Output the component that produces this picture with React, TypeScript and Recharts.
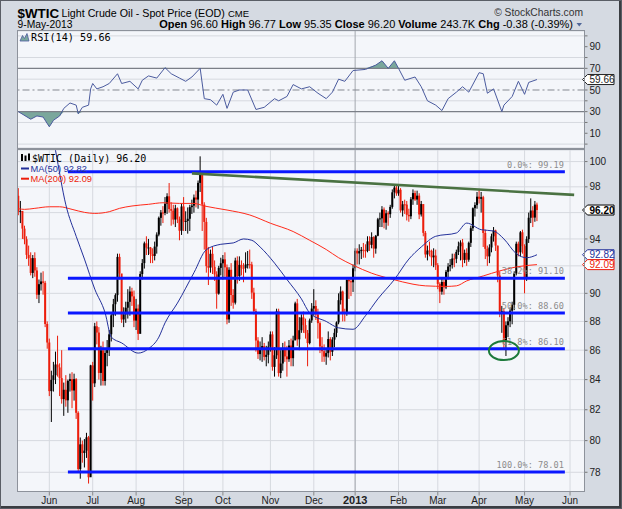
import React from 'react'
import {
  ComposedChart,
  Bar,
  Line,
  Area,
  XAxis,
  YAxis,
  CartesianGrid,
  ReferenceLine,
  ReferenceDot,
} from 'recharts'

const FONT = '"Liberation Sans", Arial, sans-serif'
const MONO = '"DejaVu Sans Mono", monospace'
const BG = '#d5dae2'
const PLOT_BG = '#f4f6fa'
const GRID = '#d6d9df'
const RED = '#ec1d0b'
const NAVY = '#23309a'
const FIB_BLUE = '#0a17ff'

// trading-day index of the first session of each month
const monthTicks = [15, 36, 57, 80, 99, 122, 143, 163, 184, 203, 223, 245, 267]
const monthLabels = ['Jun', 'Jul', 'Aug', 'Sep', 'Oct', 'Nov', 'Dec', '2013', 'Feb', 'Mar', 'Apr', 'May', 'Jun']
const priceTicks = [78, 80, 82, 84, 86, 88, 90, 92, 94, 96, 98, 100]
// labels that sit under the value tags on the right
const coveredTicks = [92, 96]
const rsiTicks = [0, 10, 20, 30, 40, 50, 60, 70, 80, 90, 100]

// daily [high, low, close]
const firstOpen = 97.3
const may12 = [
  [97.9, 95.8, 96.08], [96.9, 95.2, 96.13], [96.1, 94.0, 94.78], [95.0, 93.6, 93.98], [94.2, 92.5, 92.81],
  [93.5, 92.0, 92.56], [93.0, 91.3, 91.48], [92.8, 91.1, 92.57], [93.0, 91.2, 91.66], [91.9, 89.6, 89.9],
  [91.0, 89.3, 90.66], [91.5, 90.2, 90.86], [91.6, 89.9, 90.76], [90.9, 87.6, 87.82], [88.0, 86.1, 86.53],
]
const jun12 = [
  [86.8, 82.9, 83.23], [84.6, 81.2, 83.98], [85.2, 83.2, 84.29], [85.9, 83.7, 85.02], [87.0, 84.2, 84.82],
  [85.1, 82.9, 84.1], [86.0, 82.4, 82.7], [83.8, 81.6, 83.32], [84.3, 82.2, 82.62], [84.0, 81.8, 83.91],
  [84.4, 83.2, 84.03], [84.5, 82.1, 83.27], [84.4, 82.6, 84.03], [84.1, 81.4, 81.8], [81.9, 78.0, 78.2],
  [80.2, 77.6, 79.76], [80.0, 78.6, 79.21], [80.1, 78.3, 79.36], [80.5, 78.9, 80.21], [80.3, 77.3, 77.69],
  [85.0, 77.8, 84.96],
]
const jul12 = [
  [85.2, 82.6, 83.75], [87.9, 83.5, 87.66], [88.0, 86.4, 87.22], [87.6, 84.0, 84.45], [86.3, 83.6, 85.99],
  [86.6, 83.6, 83.91], [86.0, 83.6, 85.81], [86.7, 84.9, 86.08], [87.4, 85.6, 87.1], [88.6, 86.6, 88.43],
  [89.6, 87.6, 89.22], [90.0, 88.4, 89.87], [92.9, 89.4, 92.66], [92.9, 91.0, 91.44], [91.2, 87.9, 88.14],
  [89.0, 87.6, 88.5], [89.4, 87.9, 88.97], [90.3, 88.2, 89.39], [90.5, 88.4, 90.13], [90.4, 89.1, 89.78],
  [90.2, 87.6, 88.06],
]
const aug12 = [
  [89.6, 87.4, 88.91], [89.2, 86.7, 87.13], [91.6, 87.4, 91.4], [92.5, 91.0, 92.2], [93.8, 91.8, 93.67],
  [94.2, 92.8, 93.35], [94.0, 92.8, 93.36], [93.4, 92.2, 92.87], [93.3, 92.2, 92.73], [93.8, 92.4, 93.43],
  [94.5, 92.9, 94.33], [95.7, 94.2, 95.6], [96.2, 95.0, 96.01], [96.5, 95.2, 95.97], [97.2, 95.8, 96.68],
  [97.5, 95.9, 97.26], [98.3, 96.0, 96.27], [96.8, 95.0, 96.15], [96.6, 95.1, 95.47], [96.6, 94.9, 96.33],
  [96.4, 95.2, 95.49], [95.7, 93.9, 94.62], [96.7, 94.3, 96.47],
]
const sep12 = [
  [97.2, 94.6, 95.3], [96.1, 94.6, 95.36], [96.4, 94.4, 95.53], [96.6, 94.6, 96.42], [97.0, 95.9, 96.54],
  [97.4, 96.0, 97.17], [97.7, 96.4, 97.01], [98.5, 96.3, 98.31], [100.42, 97.6, 99.0], [99.2, 94.6, 96.62],
  [96.8, 93.2, 95.29], [95.6, 91.5, 91.98], [93.4, 90.6, 91.87], [93.2, 91.5, 92.89], [93.4, 91.4, 91.93],
  [92.4, 90.9, 91.37], [91.6, 88.9, 89.98], [92.0, 89.9, 91.85], [92.6, 91.3, 92.19],
]
const oct12 = [
  [92.8, 91.0, 92.48], [93.0, 91.2, 91.89], [92.1, 87.8, 88.14], [91.9, 87.9, 91.71], [92.2, 89.1, 89.88],
  [90.3, 88.9, 89.33], [92.6, 89.2, 92.39], [92.7, 90.7, 91.25], [92.7, 90.9, 92.07], [92.4, 91.3, 91.86],
  [92.2, 90.8, 91.85], [93.0, 91.5, 92.09], [93.1, 91.8, 92.12], [93.2, 91.8, 92.1], [92.3, 89.6, 90.05],
  [90.4, 88.5, 88.73], [88.9, 85.9, 86.67], [86.9, 85.4, 85.73], [86.6, 85.3, 86.05], [86.9, 85.2, 86.28],
  [86.5, 85.3, 85.54], [86.3, 84.9, 85.68], [86.6, 85.1, 86.24],
]
const nov12 = [
  [87.3, 85.9, 87.09], [87.3, 84.6, 84.86], [86.2, 84.2, 85.65], [88.9, 85.4, 88.71], [88.9, 84.2, 84.44],
  [86.0, 84.1, 85.09], [86.5, 84.6, 86.07], [86.6, 85.2, 85.57], [86.3, 84.2, 85.38], [86.7, 85.2, 86.32],
  [86.8, 84.9, 85.45], [87.0, 84.9, 86.67], [89.4, 86.8, 89.28], [89.6, 86.3, 86.75], [88.3, 86.0, 87.38],
  [88.5, 87.2, 88.28], [88.7, 87.2, 87.74], [88.2, 86.8, 87.18], [87.4, 84.9, 86.49], [88.2, 86.4, 88.07],
  [89.3, 87.9, 88.91],
]
const dec12 = [
  [90.3, 88.4, 89.09], [89.5, 88.1, 88.49], [88.9, 86.8, 87.88], [88.0, 85.8, 86.26], [86.9, 85.2, 85.93],
  [86.4, 85.2, 85.56], [86.1, 85.0, 85.8], [87.3, 85.5, 86.77], [86.9, 85.3, 85.89], [86.9, 85.6, 86.73],
  [87.5, 86.2, 87.2], [88.0, 86.9, 87.93], [90.0, 87.8, 89.51], [90.5, 89.2, 90.13], [90.2, 88.0, 88.66],
  [88.9, 88.0, 88.61], [91.0, 88.4, 90.98], [91.1, 89.6, 90.87], [91.1, 89.8, 90.8], [92.1, 90.1, 91.82],
]
const jan13 = [
  [93.3, 91.6, 93.12], [93.3, 92.1, 92.92], [93.6, 92.1, 93.09], [93.4, 92.5, 93.19], [93.7, 92.6, 93.15],
  [93.6, 92.6, 93.1], [94.2, 93.0, 93.82], [94.2, 93.1, 93.56], [94.5, 93.3, 94.14], [94.2, 92.6, 93.28],
  [94.3, 92.9, 94.24], [95.6, 94.2, 95.49], [96.0, 94.9, 95.56], [96.5, 94.9, 96.24], [96.4, 94.8, 95.23],
  [96.2, 94.7, 95.95], [96.1, 95.0, 95.88], [96.6, 95.6, 96.44], [97.8, 96.3, 97.57], [98.2, 97.1, 97.94],
  [98.2, 97.3, 97.49],
]
const feb13 = [
  [98.2, 97.3, 97.77], [97.9, 96.0, 96.17], [96.9, 95.7, 96.64], [97.0, 95.9, 96.62], [96.9, 95.4, 95.83],
  [96.3, 95.3, 95.72], [97.2, 95.5, 97.03], [97.8, 96.6, 97.51], [97.7, 96.9, 97.01], [97.7, 96.6, 97.31],
  [97.5, 95.5, 95.86], [96.9, 95.7, 96.66], [96.6, 94.2, 94.46], [94.6, 92.6, 92.84], [93.5, 92.4, 93.13],
  [93.8, 92.7, 93.11], [93.2, 92.0, 92.63], [93.3, 91.9, 92.76], [93.2, 91.7, 92.05],
]
const mar13 = [
  [92.2, 90.3, 90.68], [90.8, 89.3, 90.12], [91.1, 89.9, 90.82], [91.0, 89.9, 90.43], [91.7, 90.3, 91.56],
  [92.2, 91.0, 91.95], [92.5, 91.6, 92.06], [92.9, 91.8, 92.54], [92.9, 91.9, 92.52], [93.2, 92.2, 93.03],
  [93.8, 92.8, 93.45], [93.9, 92.4, 93.73], [94.0, 91.9, 92.44], [93.2, 92.2, 92.96], [93.3, 92.0, 92.45],
  [93.8, 92.3, 93.71], [95.0, 93.4, 94.81], [96.4, 94.6, 96.34], [96.8, 95.7, 96.58], [97.6, 96.3, 97.23],
]
const apr13 = [
  [97.8, 96.7, 97.07], [97.6, 96.0, 97.19], [97.3, 93.4, 94.45], [94.7, 92.5, 93.26], [93.5, 92.0, 92.7],
  [93.6, 92.2, 93.36], [94.4, 93.0, 94.2], [94.9, 93.8, 94.64], [94.7, 93.1, 93.5], [93.5, 90.8, 91.29],
  [91.6, 88.3, 88.71], [89.1, 87.2, 88.72], [88.9, 86.1, 86.68], [88.0, 85.6, 87.73], [88.3, 86.9, 88.01],
  [89.0, 87.6, 88.76], [89.4, 87.8, 89.18], [91.6, 88.8, 91.44], [93.8, 91.3, 93.64], [93.8, 92.7, 93.0],
  [94.6, 92.7, 94.5], [94.7, 92.9, 93.46],
]
const may13 = [
  [93.6, 90.0, 91.03], [94.2, 90.9, 93.99], [96.0, 93.7, 95.61], [97.1, 95.2, 96.16], [96.5, 94.9, 95.62],
  [96.9, 95.3, 96.62], [96.77, 95.35, 96.2],
]

// moving averages: [day index, value]
const ma50Pts = [
  [14, 104.6], [18, 100.9], [23, 96.6], [28, 94.2], [32, 92.5], [37, 90.3], [42, 88.6], [45, 86.9],
  [50, 86.5], [58, 85.8], [63, 86.1], [68, 86.9], [71, 87.9], [77, 89.3], [85, 91.5], [91, 93.2],
  [98, 93.6], [104, 93.7], [109, 94.0], [113, 93.9], [117, 93.4], [124, 92.2], [130, 91.0], [137, 89.6],
  [141, 88.6], [149, 88.0], [155, 87.55], [162, 87.45], [168, 88.4], [174, 89.6], [182, 91.0], [189, 92.5],
  [195, 93.4], [202, 94.2], [212, 94.45], [217, 95.2], [224, 94.7], [230, 94.6], [235, 94.0], [241, 92.9],
  [246, 92.6], [251, 92.82],
]
const ma200Pts = [
  [0, 96.3], [3, 96.25], [8, 96.33], [15, 96.45], [20, 96.45], [26, 96.25], [32, 96.02], [37, 95.94],
  [44, 96.07], [49, 96.33], [55, 96.51], [63, 96.64], [70, 96.76], [78, 96.71], [85, 96.71], [90, 96.51],
  [101, 96.2], [112, 95.82], [122, 95.19], [133, 94.56], [141, 93.9], [149, 93.21], [155, 92.6], [162, 92.05],
  [171, 91.46], [181, 91.02], [191, 90.66], [197, 90.54], [207, 90.5], [212, 90.54], [217, 90.9], [225, 91.26],
  [233, 91.63], [241, 91.92], [251, 92.09],
]
const rsiPts = [
  [0, 30], [6, 23], [9, 26], [12, 25], [15, 16], [17, 22], [20, 26], [22, 33], [25, 38], [28, 36],
  [29, 28], [31, 34], [34, 36], [35, 51], [36, 56], [38, 51], [41, 53], [44, 56], [48, 65], [50, 56],
  [54, 58], [58, 51], [60, 59], [63, 63], [67, 61], [71, 70.6], [74, 65], [78, 61], [81, 58], [84, 62],
  [88, 70], [90, 42], [93, 41], [96, 36], [99, 46], [101, 33], [104, 48], [107, 50], [111, 50], [115, 32],
  [119, 34], [124, 42], [126, 40], [130, 44], [133, 55], [137, 51], [141, 53], [145, 47], [149, 42], [152, 48],
  [155, 60], [158, 58], [162, 68], [168, 69], [173, 73], [176, 77], [179, 70], [182, 77], [184, 70], [187, 59],
  [192, 62], [195, 53], [198, 40], [202, 36], [205, 31], [208, 42], [212, 48], [215, 53], [218, 48], [223, 66],
  [225, 65], [227, 47], [230, 51], [234, 30], [235, 36], [239, 44], [242, 58], [245, 46], [247, 57], [251, 59.66],
]

const fibLevels = [99.19, 91.1, 88.6, 86.1, 78.01]
const fibNames = ['0.0%', '38.2%', '50.0%', '61.8%', '100.0%']
const fibStart = 24
const fibEnd = 264.5
const trendFrom = { x: 84, y: 99.06 }
const trendTo = { x: 269, y: 97.37 }
const lowMark = { x: 235, y: 85.97 }

const lastClose = 96.2
const lastMa50 = 92.82
const lastMa200 = 92.09
const lastRsi = 59.66

const X_DOMAIN = [-0.4, 274]
const hlc = [...may12, ...jun12, ...jul12, ...aug12, ...sep12, ...oct12, ...nov12, ...dec12, ...jan13, ...feb13, ...mar13, ...apr13, ...may13]

const candles = hlc.map(([h, l, c], i) => ({
  i,
  h,
  l,
  c,
  o: i === 0 ? firstOpen : hlc[i - 1][2],
  range: [l, h],
}))
const ma50Rows = ma50Pts.map(([i, v]) => ({ i, v }))
const ma200Rows = ma200Pts.map(([i, v]) => ({ i, v }))
const rsiRows = rsiPts.map(([i, v]) => ({ i, v }))

function Candle(props: any) {
  const { x, y, width, height, payload } = props
  if (!payload || !isFinite(y) || !isFinite(height)) return null
  const top = Math.min(y, y + height)
  const hgt = Math.abs(height)
  const cx = x + width / 2
  const lh = Math.log(payload.h)
  const ll = Math.log(payload.l)
  const toY = (v: number) => top + ((lh - Math.log(v)) / (lh - ll)) * hgt
  const y1 = toY(payload.o)
  const y2 = toY(payload.c)
  const color = payload.c < payload.o ? RED : '#000'
  return (
    <g>
      <line x1={cx} x2={cx} y1={top} y2={top + hgt} stroke={color} strokeWidth={1} />
      <rect x={cx - 1} y={Math.min(y1, y2)} width={2} height={Math.max(Math.abs(y2 - y1), 1)} fill={color} />
    </g>
  )
}

function Tag({ cx, cy, text, color, bold }: any) {
  const h = 5
  return (
    <g>
      <path
        d={`M${cx - 2},${cy} L${cx + 3},${cy - h} L${cx + 29.5},${cy - h} L${cx + 29.5},${cy + h} L${cx + 3},${cy + h} Z`}
        fill="#fff"
        stroke={color}
        strokeWidth={1}
      />
      <text x={cx + 5} y={cy + 3.6} fontSize={10} fontFamily={FONT} fontWeight={bold ? 'bold' : 'normal'} fill={color}>
        {text}
      </text>
    </g>
  )
}

const fibLabel = (txt: string) => (props: any) => {
  const vb = props.viewBox
  if (!vb) return null
  return (
    <text x={vb.x + vb.width - 1} y={vb.y - 4} textAnchor="end" fontSize={8.6} fontFamily={MONO} fill="#8c8c8c">
      {txt}
    </text>
  )
}

function MonthTick({ x, y, payload }: any) {
  const k = monthTicks.indexOf(payload.value)
  const lbl = monthLabels[k]
  const bold = lbl === '2013'
  return (
    <text x={x} y={y + 7} textAnchor="middle" fontSize={bold ? 11 : 10} fontWeight={bold ? 'bold' : 'normal'} fontFamily={FONT} fill="#222">
      {lbl}
    </text>
  )
}

function RsiPanel() {
  return (
    <ComposedChart width={622} height={160} margin={{ top: 31, right: 0, bottom: 0, left: 17.5 }}>
      <CartesianGrid stroke={GRID} fill={PLOT_BG} />
      <XAxis type="number" dataKey="i" domain={X_DOMAIN} ticks={monthTicks} allowDataOverflow tick={false} axisLine={false} tickLine={false} height={12} />
      <YAxis
        orientation="right"
        type="number"
        domain={[-3.6, 104.5]}
        ticks={rsiTicks}
        allowDataOverflow
        width={37.5}
        axisLine={false}
        tickSize={3}
        tickMargin={2}
        tickLine={{ stroke: '#777' }}
        tick={{ fontSize: 10, fill: '#222', fontFamily: FONT }}
        tickFormatter={(v: number) => (v % 20 === 10 ? String(v) : '')}
      />
      <ReferenceLine x={163} stroke="#a3a7ae" />
      <ReferenceLine y={70} stroke="#7b7f87" strokeWidth={1.2} />
      <ReferenceLine y={30} stroke="#7b7f87" strokeWidth={1.2} />
      <ReferenceLine y={50} stroke="#858991" strokeDasharray="7 3 2 3" />
      <Area data={rsiRows} dataKey={(d: any) => [Math.min(d.v, 30), 30]} type="linear" stroke="none" fill="#7aa79c" fillOpacity={1} isAnimationActive={false} />
      <Area data={rsiRows} dataKey={(d: any) => [70, Math.max(d.v, 70)]} type="linear" stroke="none" fill="#7aa79c" fillOpacity={1} isAnimationActive={false} />
      <Line data={rsiRows} dataKey="v" type="linear" stroke="#4b5b9e" strokeWidth={1} dot={false} isAnimationActive={false} />
      <ReferenceDot x={274} y={lastRsi} r={0} ifOverflow="visible" shape={(p: any) => <Tag cx={p.cx} cy={p.cy} text={lastRsi.toFixed(2)} color="#222" />} />
    </ComposedChart>
  )
}

function PricePanel() {
  return (
    <ComposedChart width={622} height={361} data={candles} margin={{ top: 2, right: 0, bottom: 0, left: 17.5 }}>
      <CartesianGrid stroke={GRID} fill={PLOT_BG} />
      <XAxis
        type="number"
        dataKey="i"
        domain={X_DOMAIN}
        ticks={monthTicks}
        allowDataOverflow
        height={17.5}
        axisLine={false}
        tickSize={4}
        tickMargin={1}
        tickLine={{ stroke: '#888' }}
        tick={<MonthTick />}
        interval={0}
      />
      <YAxis
        orientation="right"
        type="number"
        scale="log"
        domain={[76.81, 100.93]}
        ticks={priceTicks}
        allowDataOverflow
        width={37.5}
        axisLine={false}
        tickSize={3}
        tickMargin={2}
        tickLine={{ stroke: '#777' }}
        tick={{ fontSize: 10, fill: '#222', fontFamily: FONT }}
        tickFormatter={(v: number) => (coveredTicks.includes(v) ? '' : String(v))}
        interval={0}
      />
      <ReferenceLine x={163} stroke="#a3a7ae" />
      <Bar dataKey="range" barSize={2} shape={(p: any) => <Candle {...p} />} isAnimationActive={false} />
      <Line data={ma200Rows} dataKey="v" type="monotone" stroke="#ff2a1a" strokeWidth={1} dot={false} isAnimationActive={false} />
      <Line data={ma50Rows} dataKey="v" type="monotone" stroke={NAVY} strokeWidth={1} dot={false} isAnimationActive={false} />
      {fibLevels.map((lv, k) => (
        <ReferenceLine
          key={lv}
          segment={[{ x: fibStart, y: lv }, { x: fibEnd, y: lv }]}
          stroke={FIB_BLUE}
          strokeWidth={3}
          ifOverflow="visible"
          label={fibLabel(`${fibNames[k]}: ${lv.toFixed(2)}`)}
        />
      ))}
      <ReferenceLine segment={[trendFrom, trendTo]} stroke="#4a7242" strokeWidth={2.6} ifOverflow="visible" />
      <ReferenceDot
        x={lowMark.x}
        y={lowMark.y}
        r={0}
        ifOverflow="visible"
        shape={(p: any) => <ellipse cx={p.cx} cy={p.cy} rx={15} ry={9.5} fill="none" stroke="#1d7a3b" strokeWidth={2} />}
      />
      <ReferenceDot x={274} y={lastMa50} r={0} ifOverflow="visible" shape={(p: any) => <Tag cx={p.cx} cy={p.cy} text={lastMa50.toFixed(2)} color={NAVY} />} />
      <ReferenceDot x={274} y={lastMa200} r={0} ifOverflow="visible" shape={(p: any) => <Tag cx={p.cx} cy={p.cy} text={lastMa200.toFixed(2)} color={RED} />} />
      <ReferenceDot x={274} y={lastClose} r={0} ifOverflow="visible" shape={(p: any) => <Tag cx={p.cx} cy={p.cy} text={lastClose.toFixed(2)} color="#000" bold />} />
    </ComposedChart>
  )
}

export default function App() {
  const frame = { position: 'absolute' as const, border: '1px solid #8d929b', boxSizing: 'border-box' as const, pointerEvents: 'none' as const }
  return (
    <div
      style={{
        position: 'absolute',
        left: 0,
        top: 0,
        width: 622,
        height: 509,
        background: BG,
        overflow: 'hidden',
        fontFamily: FONT,
        boxShadow: 'inset 0 0 0 1px #5a5e66, inset -3px -3px 0 #3a3d42',
      }}
    >
      <div style={{ position: 'absolute', left: 0, top: 0 }}>
        <RsiPanel />
      </div>
      <div style={{ position: 'absolute', left: 0, top: 148 }}>
        <PricePanel />
      </div>
      <div style={{ ...frame, left: 17, top: 30, width: 568, height: 119 }} />
      <div style={{ ...frame, left: 17, top: 149, width: 568, height: 343 }} />
      <svg width={622} height={509} style={{ position: 'absolute', left: 0, top: 0, pointerEvents: 'none' }}>
        <text x={17.5} y={17.5} fontSize={13.4} fontWeight="bold" fontFamily={FONT} fill="#000">$WTIC</text>
        <text x={61.5} y={17} fontSize={10.7} fontFamily={FONT} fill="#000">Light Crude Oil - Spot Price (EOD)</text>
        <text x={228} y={17} fontSize={9.5} fontFamily={FONT} fill="#000">CME</text>
        <text x={583} y={16} textAnchor="end" fontSize={10.3} fontFamily={FONT} fill="#333">© StockCharts.com</text>
        <text x={17.5} y={28} fontSize={10.3} fontFamily={FONT} fill="#000">9-May-2013</text>
        <text x={573} y={28} textAnchor="end" fontSize={11} fontFamily={FONT} fill="#000">
          <tspan fontWeight="bold">Open</tspan> 96.60 <tspan fontWeight="bold">High</tspan> 96.77{' '}
          <tspan fontWeight="bold">Low</tspan> 95.35 <tspan fontWeight="bold">Close</tspan> 96.20{' '}
          <tspan fontWeight="bold">Volume</tspan> 243.7K <tspan fontWeight="bold">Chg</tspan> -0.38 (-0.39%)
        </text>
        <path d="M576.5,23 L582,23 L579.25,26.5 Z" fill="#4f6698" />
        <path d="M20,41 L22.5,35.5 L24.5,38.5 L27,33.5 L29,41 Z" fill="#7aa79c" stroke="#4b5b9e" strokeWidth={0.8} />
        <text x={31} y={40.5} fontSize={10.2} fontFamily={MONO} fill="#000">RSI(14) 59.66</text>
        <rect x={21} y={154} width={2} height={7} fill="#000" />
        <rect x={24.5} y={155.5} width={2} height={5.5} fill="#000" />
        <rect x={28} y={153.5} width={2} height={7} fill="#000" />
        <text x={32} y={161.5} fontSize={10} fontFamily={MONO} fill="#000">$WTIC (Daily) 96.20</text>
        <line x1={21} x2={29} y1={168.5} y2={168.5} stroke={NAVY} strokeWidth={2} />
        <text x={30.5} y={171.8} fontSize={9.3} fontFamily={FONT} fill={NAVY}>MA(50) 92.82</text>
        <line x1={21} x2={29} y1={178.7} y2={178.7} stroke={RED} strokeWidth={2} />
        <text x={30.5} y={182} fontSize={9.3} fontFamily={FONT} fill={RED}>MA(200) 92.09</text>
      </svg>
    </div>
  )
}
